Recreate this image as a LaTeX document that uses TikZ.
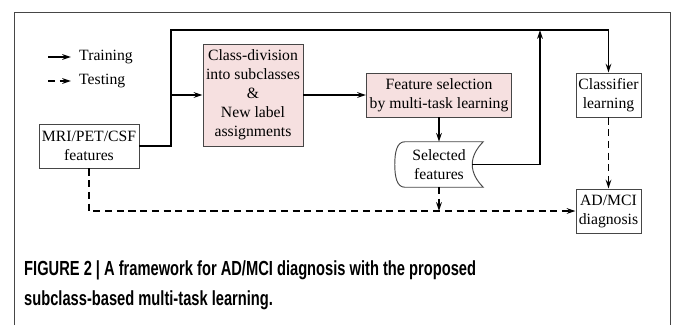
\documentclass[tikz,border=0pt]{standalone}
\usepackage{fontspec}
\setmainfont{Liberation Serif}
\newfontfamily\capfont[FakeStretch=0.72]{Liberation Sans}
\usetikzlibrary{arrows.meta}
\usetikzlibrary{calc}

\definecolor{boxpink}{RGB}{246,224,224}
\definecolor{edge}{RGB}{70,70,70}

\begin{document}
\begin{tikzpicture}[x=0.03cm, y=-0.03cm,
  font=\rmfamily\fontsize{13.4pt}{16.2pt}\selectfont,
  box/.style={draw=edge, line width=0.8pt, align=center, inner sep=0pt},
  pinkbox/.style={box, fill=boxpink},
  outline/.style={draw=edge, line width=0.8pt},
  train/.style={line width=1.5pt, -{Stealth[length=7.5pt,width=4.8pt]}},
  test/.style={train, dash pattern=on 6pt off 4pt}]
\useasboundingbox (0,0) rectangle (673,325);
\draw[edge, line width=0.7pt] (14,325) -- (14,12) -- (670,12) -- (670,325);

% legend
\foreach \yy/\sty/\txt in {57/train/Training, 81/test/Testing} {
 \coordinate (from\txt) at (48,\yy);
 \node[anchor=west, inner sep=0pt] (key\txt) at (79,\yy) {\txt};
 \draw[\sty] (from\txt) -- ($(key\txt.west)+(-8,0)$);
}

% blocks
\node[box, minimum width=3cm, minimum height=1.32cm] (mri) at (89,146) {MRI/PET/CSF\\features};
\node[pinkbox, minimum width=3cm, minimum height=3.06cm] (cdiv) at (253,95) {Class-division\\into subclasses\\\&\\New label\\assignments};
\node[pinkbox, minimum width=4.35cm, minimum height=1.32cm] (fsel) at (439,95) {Feature selection\\by multi-task learning};
\node[inner sep=0pt, align=center, minimum width=2.64cm, minimum height=1.35cm] (sel) at (439,164.5) {Selected\\features};
\node[box, minimum width=1.95cm, minimum height=1.32cm] (cls) at (608.5,95) {Classifier\\learning};
\node[box, minimum width=1.95cm, minimum height=1.32cm] (diag) at (608.5,211) {AD/MCI\\diagnosis};

\coordinate (selout) at ($(sel.east)+(-11,0)$);
\draw[outline] ($(sel.north west)+(10,0)$) .. controls ($(sel.north west)+(2,0)$) and ($(sel.west)+(0,-12)$) .. (sel.west)
 .. controls ($(sel.west)+(0,12)$) and ($(sel.south west)+(2,0)$) .. ($(sel.south west)+(10,0)$) -- (sel.south east)
 .. controls ($(sel.south east)+(-7,-7)$) and ($(sel.east)+(-11,8)$) .. (selout)
 .. controls ($(sel.east)+(-11,-8)$) and ($(sel.north east)+(-7,7)$) .. (sel.north east) -- cycle;

% connectors
\coordinate (tl) at (171,30);
\coordinate (up) at (540,30);
\draw[train] (mri.east) -| (tl) -| (cls.north);
\draw[train] (tl |- cdiv.west) -- (cdiv.west);
\draw[train] (cdiv.east) -- (fsel.west);
\draw[train] (fsel.south) -- (sel.north);
\draw[train] (selout) -| (up);
\draw[test] (cls.south) -- (diag.north);
\draw[test] (mri.south) |- (diag.west);
\draw[test] (sel.south) -- (sel.south |- diag.west);

\node[anchor=north west, align=left, inner sep=0pt, font=\capfont\bfseries\fontsize{17.4pt}{25.6pt}\selectfont] (caption) at (24,260)
 {FIGURE 2 | A framework for AD/MCI diagnosis with the proposed\\subclass-based multi-task learning.};
\end{tikzpicture}
\end{document}
